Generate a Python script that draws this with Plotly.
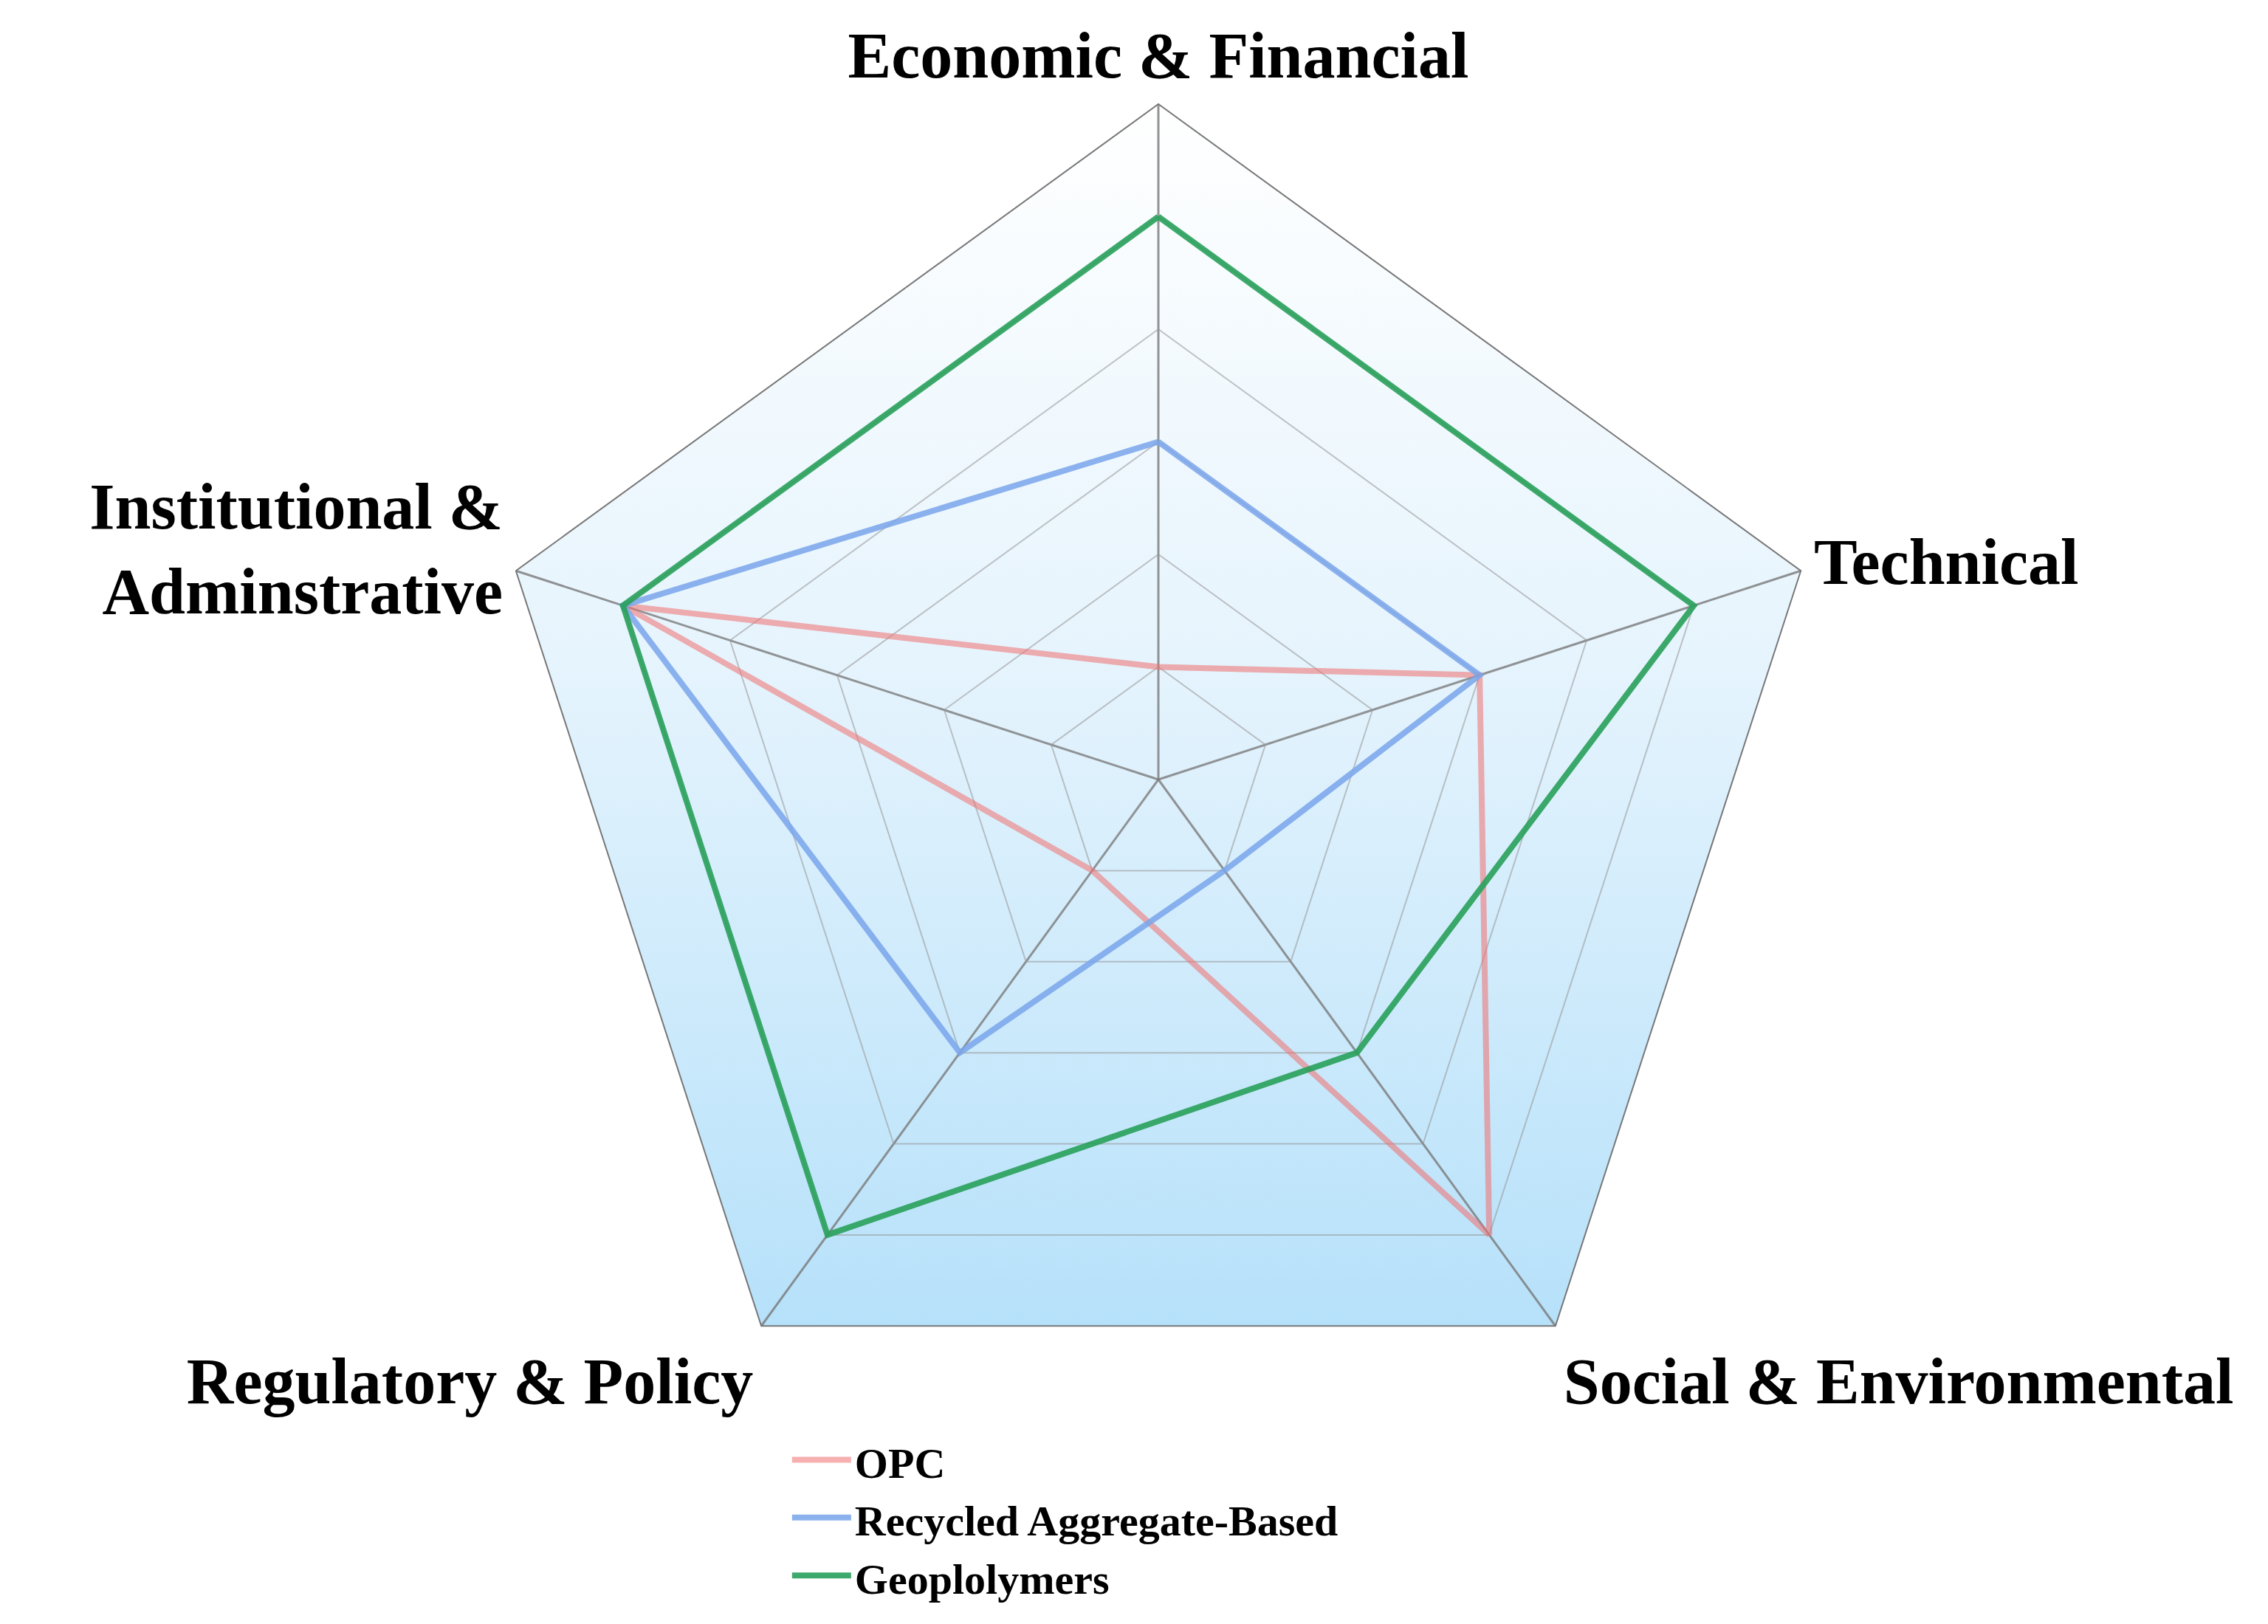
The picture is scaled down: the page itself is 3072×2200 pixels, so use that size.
import plotly.graph_objects as go
import base64, math

categories = ["Economic & Financial", "Technical", "Social & Environmental",
              "Regulatory & Policy", "Institutional &<br>Adminstrative"]
opc = [1, 3, 5, 1, 5]
recycled = [3, 3, 1, 3, 5]
geo = [5, 5, 3, 5, 5]
series = [("OPC", opc, "rgba(240,110,110,0.55)"),
          ("Recycled Aggregate-Based", recycled, "rgba(120,165,235,0.85)"),
          ("Geoplolymers", geo, "rgba(40,160,90,0.9)")]

W, H = 3072, 2200
cx, cy, R = 1561, 1048, 915
x0, x1 = (cx - R) / W, (cx + R) / W
y0, y1 = 1 - (cy + R) / H, 1 - (cy - R) / H

pts = []
for k in range(5):
    a = math.radians(90 - 72 * k)
    pts.append(f"{R + R*math.cos(a):.1f},{R - R*math.sin(a):.1f}")
bottom = R + R * math.cos(math.radians(36))
svg = f'''<svg xmlns="http://www.w3.org/2000/svg" width="{2*R}" height="{2*R}" viewBox="0 0 {2*R} {2*R}">
<defs><linearGradient id="g" x1="0" y1="0" x2="0" y2="{bottom:.0f}" gradientUnits="userSpaceOnUse">
<stop offset="0" stop-color="#ffffff"/><stop offset="0.45" stop-color="#e6f4fd"/><stop offset="1" stop-color="#b6e1fa"/></linearGradient></defs>
<polygon points="{' '.join(pts)}" fill="url(#g)"/></svg>'''
src = "data:image/svg+xml;base64," + base64.b64encode(svg.encode()).decode()

fig = go.Figure()
for name, vals, col in series:
    fig.add_trace(go.Scatterpolar(r=vals + vals[:1], theta=categories + categories[:1],
                                  mode="lines", name=name, fill="toself",
                                  fillcolor="rgba(255,255,255,0.01)",
                                  line=dict(color=col, width=8)))

fig.add_layout_image(dict(source=src, xref="paper", yref="paper", x=x0, y=y1,
                          sizex=x1 - x0, sizey=y1 - y0, sizing="stretch",
                          xanchor="left", yanchor="top", layer="below"))

fig.update_layout(
    width=W, height=H, margin=dict(l=0, r=0, t=0, b=0),
    paper_bgcolor="white",
    font=dict(family="Liberation Serif", color="black"),
    polar=dict(
        domain=dict(x=[x0, x1], y=[y0, y1]),
        bgcolor="rgba(0,0,0,0)", gridshape="linear",
        radialaxis=dict(range=[0, 6], dtick=1, showticklabels=False, ticks="",
                        showline=False, gridcolor="rgba(150,150,150,0.55)", gridwidth=2),
        angularaxis=dict(direction="clockwise", rotation=90, ticks="",
                         tickfont=dict(size=88, weight="bold"),
                         linecolor="#777", linewidth=2,
                         gridcolor="rgba(120,120,120,0.8)", gridwidth=3),
    ),
    legend=dict(x=0.345, y=0.124, xanchor="left", yanchor="top", itemwidth=80,
                font=dict(size=58, weight="bold"), bgcolor="rgba(0,0,0,0)"),
)
fig.write_html("out.html")
